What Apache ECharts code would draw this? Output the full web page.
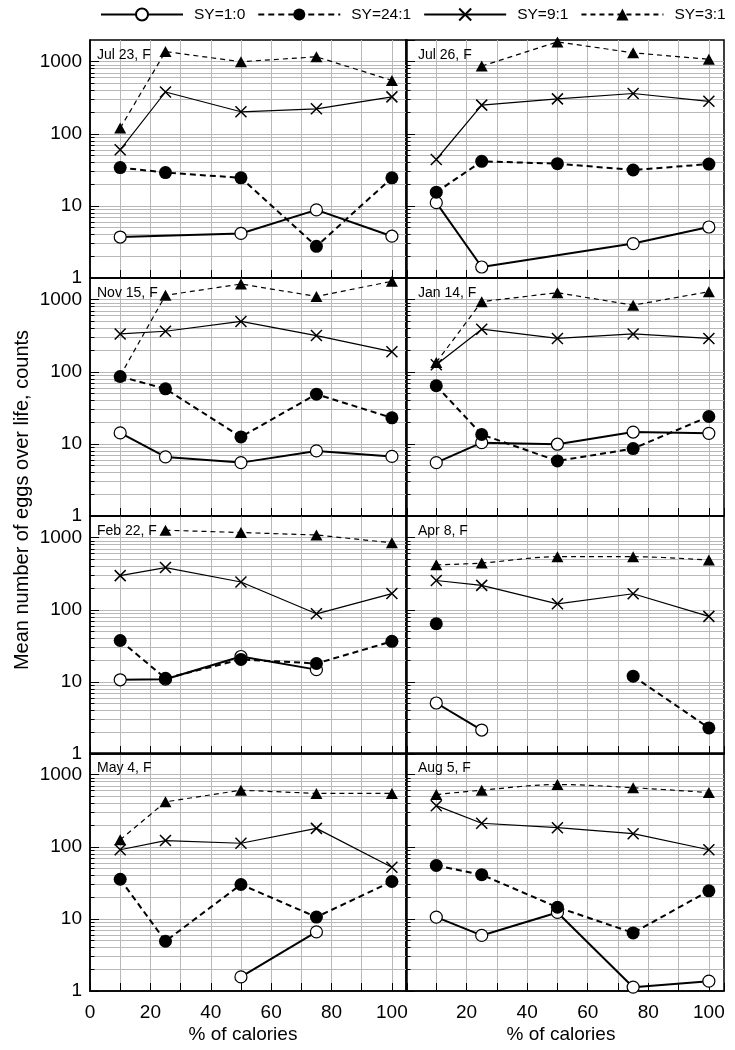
<!DOCTYPE html>
<html><head><meta charset="utf-8">
<script src="https://cdn.jsdelivr.net/npm/echarts/dist/echarts.min.js"></script>
<style>html,body{margin:0;padding:0;background:#fff}#c{width:735px;height:1050px}</style>
</head><body><div id="c"></div>
<script>
// ---------------- data ----------------
const xCalories = [10, 25, 50, 75, 100];
const panelNames = ['Jul 23, F','Jul 26, F','Nov 15, F','Jan 14, F','Feb 22, F','Apr 8, F','May 4, F','Aug 5, F'];
const seriesNames = ['SY=1:0','SY=24:1','SY=9:1','SY=3:1'];
const yTickLabels = [1, 10, 100, 1000];
const xTickLabels = [0, 20, 40, 60, 80, 100];
const xAxisTitle = '% of calories';
const yAxisTitle = 'Mean number of eggs over life, counts';

// values in the order of xCalories, null = not measured
const sy1_0 = [
  [3.7, null, 4.15, 8.8, 3.8],
  [11.1, 1.42, null, 3.0, 5.1],
  [14.2, 6.6, 5.5, 8.0, 6.7],
  [5.5, 10.4, 9.9, 14.6, 14.0],
  [10.7, 10.9, 22.5, 14.8, null],
  [5.1, 2.15, null, null, null],
  [null, null, 1.57, 6.6, null],
  [10.6, 5.9, 12.3, 1.13, 1.37]
];
const sy24_1 = [
  [34, 29, 24.5, 2.75, 24.5],
  [15.5, 41.5, 38.5, 31.5, 38],
  [86, 58, 12.5, 49, 23],
  [64, 13.5, 5.8, 8.6, 24],
  [37.5, 11.2, 20.5, 18, 36.5],
  [64, null, null, 12, 2.3],
  [35.5, 4.9, 30, 10.6, 33],
  [55, 41, 14.5, 6.4, 24.5]
];
const sy9_1 = [
  [60, 380, 202, 222, 325],
  [44, 250, 305, 362, 282],
  [335, 365, 500, 318, 190],
  [125, 390, 290, 335, 290],
  [298, 385, 243, 88, 168],
  [255, 218, 121, 167, 81],
  [91, 122, 112, 180, 52],
  [372, 212, 184, 152, 91]
];
const sy3_1 = [
  [120, 1380, 1000, 1170, 550],
  [null, 870, 1880, 1330, 1080],
  [88, 1150, 1650, 1110, 1800],
  [135, 940, 1250, 840, 1290],
  [null, 1270, 1180, 1090, 850],
  [420, 445, 545, 545, 490],
  [125, 420, 610, 550, 550],
  [530, 610, 730, 660, 565]
];
const connectGaps = [true, true, true, true, true, false, true, true];
const smoothTop = [false, false, false, false, false, true, false, true];

// ---------------- layout / style ----------------
const FONT = "'Liberation Sans', Arial, sans-serif";
const rowTops = [40, 278, 516, 753];
const rowH = 238;
const colLefts = [90, 406];
const colWidths = [317, 318];
const X_MAX = 105, Y_MIN = 1, Y_MAX = 2000;
const GRID_GRAY = '#b8b8b8';

const minorVals = [];
[1, 10, 100, 1000].forEach(d => { for (let k = 2; k <= 9; k++) { if (k * d < Y_MAX) minorVals.push(k * d); } });

const styles = {
  'SY=1:0': { symbol: 'circle', symbolSize: 12, itemStyle: { color: '#fff', borderColor: '#000', borderWidth: 1.2 }, lineStyle: { color: '#000', width: 2, type: 'solid' } },
  'SY=24:1': { symbol: 'circle', symbolSize: 13, itemStyle: { color: '#000', borderColor: '#000', borderWidth: 0 }, lineStyle: { color: '#000', width: 2, type: [6, 4] } },
  'SY=9:1': { symbol: 'path://M0,0L10,10M10,0L0,10', symbolSize: 11, itemStyle: { color: 'none', borderColor: '#000', borderWidth: 1.5 }, lineStyle: { color: '#000', width: 1.2, type: 'solid' } },
  'SY=3:1': { symbol: 'triangle', symbolSize: [12, 11], itemStyle: { color: '#000', borderColor: '#000', borderWidth: 0 }, lineStyle: { color: '#000', width: 1.2, type: [5, 4] } }
};
const dataByName = { 'SY=1:0': sy1_0, 'SY=24:1': sy24_1, 'SY=9:1': sy9_1, 'SY=3:1': sy3_1 };
const drawOrder = ['SY=1:0', 'SY=3:1', 'SY=9:1', 'SY=24:1'];

const grid = [], xAxis = [], yAxis = [], series = [], title = [];
for (let i = 0; i < 8; i++) {
  const row = Math.floor(i / 2), col = i % 2;
  grid.push({ left: colLefts[col], top: rowTops[row], width: colWidths[col], height: rowH,
    show: true, borderColor: '#000', borderWidth: 1.5, backgroundColor: 'transparent' });
  xAxis.push({
    type: 'value', gridIndex: i, min: 0, max: X_MAX, interval: 10,
    axisLine: { show: true, onZero: false, lineStyle: { color: '#000', width: 1.5 } },
    axisTick: { show: true, inside: true, length: 8, lineStyle: { color: '#000', width: 1 } },
    axisLabel: { show: row === 3, interval: 0, margin: 12, fontSize: 19, color: '#000', fontFamily: FONT,
      formatter: v => (xTickLabels.includes(v) && !(col === 1 && v === 0)) ? String(v) : '' },
    splitLine: { show: true, showMinLine: false, showMaxLine: false, lineStyle: { color: GRID_GRAY, width: 1 } }
  });
  yAxis.push({
    type: 'log', logBase: 10, gridIndex: i, min: Y_MIN, max: Y_MAX,
    axisLine: { show: true, lineStyle: { color: '#000', width: 1.5 } },
    axisTick: { show: true, inside: true, length: 9, lineStyle: { color: '#000', width: 1 } },
    axisLabel: { show: col === 0, showMaxLabel: false, margin: 8, fontSize: 19, color: '#000', fontFamily: FONT,
      formatter: v => { const r = Math.round(v); return yTickLabels.includes(r) ? String(r) : ''; } },
    splitLine: { show: true, showMinLine: false, showMaxLine: false, lineStyle: { color: GRID_GRAY, width: 1 } }
  });
  title.push({ text: panelNames[i], left: colLefts[col] + (col === 0 ? 7 : 12), top: rowTops[row] + 8, padding: 0,
    textStyle: { fontSize: 14, fontWeight: 'normal', color: '#000', fontFamily: FONT } });

  const markData = [];
  minorVals.forEach(v => markData.push({ yAxis: v }));
  minorVals.forEach(v => markData.push([{ coord: [0, v], lineStyle: { color: '#000', width: 1 } }, { coord: [1.5, v] }]));

  drawOrder.forEach((name, si) => {
    const st = styles[name];
    const vals = dataByName[name][i];
    const s = {
      name, type: 'line', xAxisIndex: i, yAxisIndex: i,
      data: xCalories.map((x, k) => [x, vals[k] === null ? '-' : vals[k]]),
      connectNulls: connectGaps[i],
      smooth: (name === 'SY=3:1' && smoothTop[i]) ? 0.35 : false,
      symbol: st.symbol, symbolSize: st.symbolSize, showSymbol: true,
      itemStyle: st.itemStyle, lineStyle: st.lineStyle,
      animation: false, silent: true, z: 2 + si
    };
    if (si === 0) {
      s.markLine = { silent: true, animation: false, symbol: ['none', 'none'], z: 1,
        label: { show: false }, emphasis: { disabled: true },
        lineStyle: { color: GRID_GRAY, width: 1, type: 'solid' }, data: markData };
    }
    series.push(s);
  });
}

const option = {
  backgroundColor: '#fff',
  animation: false,
  textStyle: { fontFamily: FONT },
  title,
  legend: {
    data: seriesNames, left: 100, top: 6, width: 700, padding: 0, orient: 'horizontal',
    itemWidth: 82, itemHeight: 15, itemGap: 12,
    selectedMode: false,
    textStyle: { fontSize: 15.5, color: '#000', fontFamily: FONT, padding: [0, 0, 0, 6] }
  },
  grid, xAxis, yAxis, series,
  graphic: [
    { type: 'text', x: 22, y: 500, rotation: Math.PI / 2, silent: true,
      style: { text: yAxisTitle, font: "20px 'Liberation Sans', Arial, sans-serif", fill: '#000', align: 'center', verticalAlign: 'middle' } },
    { type: 'text', x: 243, y: 1035, silent: true,
      style: { text: xAxisTitle, font: "19px 'Liberation Sans', Arial, sans-serif", fill: '#000', align: 'center', verticalAlign: 'middle' } },
    { type: 'text', x: 561, y: 1035, silent: true,
      style: { text: xAxisTitle, font: "19px 'Liberation Sans', Arial, sans-serif", fill: '#000', align: 'center', verticalAlign: 'middle' } }
  ]
};
const chart = echarts.init(document.getElementById('c'), null, { renderer: 'canvas' });
chart.setOption(option);
</script></body></html>
